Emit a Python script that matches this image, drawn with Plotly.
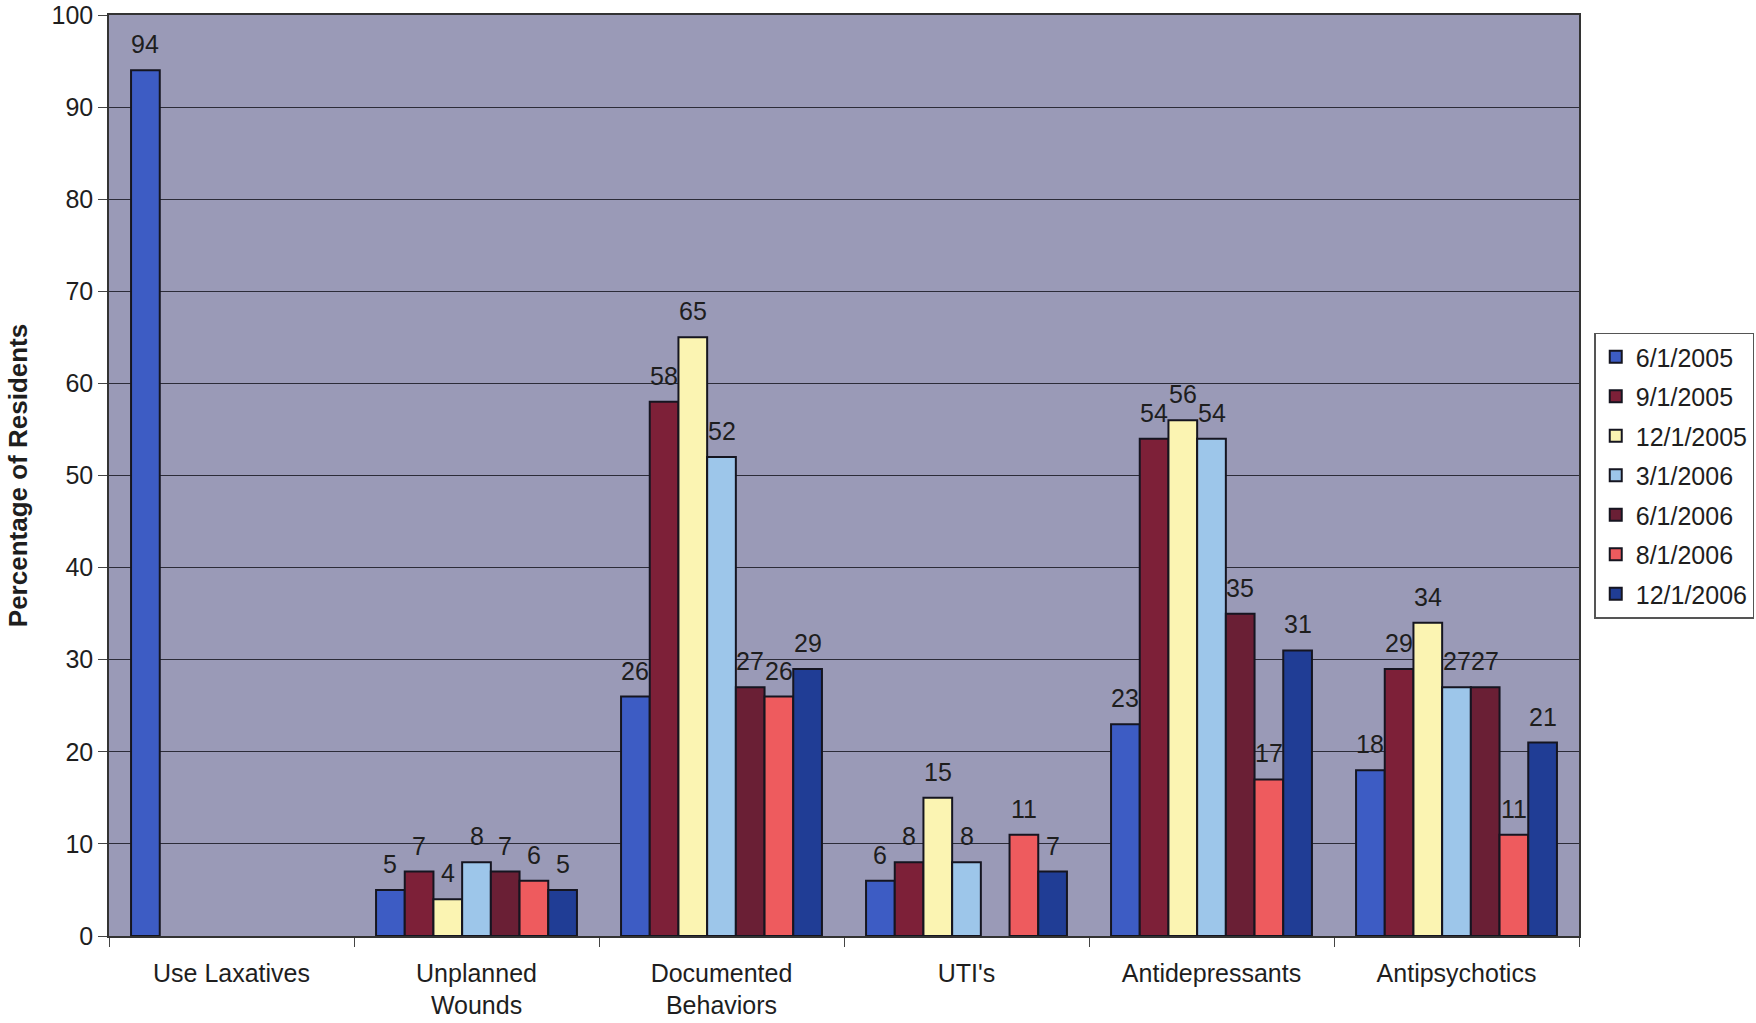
import plotly.graph_objects as go

categories = ["Use Laxatives", "Unplanned<br>Wounds", "Documented<br>Behaviors",
              "UTI's", "Antidepressants", "Antipsychotics"]

series_names = ["6/1/2005", "9/1/2005", "12/1/2005", "3/1/2006",
                "6/1/2006", "8/1/2006", "12/1/2006"]

s_2005_06 = [94, 5, 26, 6, 23, 18]
s_2005_09 = [None, 7, 58, 8, 54, 29]
s_2005_12 = [None, 4, 65, 15, 56, 34]
s_2006_03 = [None, 8, 52, 8, 54, 27]
s_2006_06 = [None, 7, 27, None, 35, 27]
s_2006_08 = [None, 6, 26, 11, 17, 11]
s_2006_12 = [None, 5, 29, 7, 31, 21]

series_values = [s_2005_06, s_2005_09, s_2005_12, s_2006_03,
                 s_2006_06, s_2006_08, s_2006_12]

bar_colors = ["#3d5cc4", "#7d2038", "#fbf4b2", "#9dc6ea",
              "#6a1f35", "#ee5b5e", "#203d95"]

FONT = "Liberation Sans, Arial, sans-serif"
TEXT = "#1e1e1e"
FS = 25
BARGAP = 0.18

fig = go.Figure()
for i, (name, vals, col) in enumerate(zip(series_names, series_values, bar_colors)):
    fig.add_trace(go.Bar(
        name=name,
        x=categories,
        y=vals,
        marker=dict(color=col, line=dict(color="#151520", width=2)),
        legendgroup=f"g{i}",
    ))

# value labels above each bar, placed at the grouped-bar centres
n = len(series_names)
group_w = 1 - BARGAP
bar_w = group_w / n
annotations = []
for i, vals in enumerate(series_values):
    for c, v in enumerate(vals):
        if v is None:
            continue
        annotations.append(dict(
            x=c - group_w / 2 + (i + 0.5) * bar_w, y=v,
            xref="x", yref="y",
            text=str(v), showarrow=False,
            yanchor="bottom", yshift=10,
            font=dict(family=FONT, size=FS, color=TEXT),
        ))

fig.update_layout(
    width=1756, height=1023,
    barmode="group",
    bargap=BARGAP,
    bargroupgap=0,
    paper_bgcolor="white",
    plot_bgcolor="#9a9ab7",
    margin=dict(l=109, r=177, t=15, b=87),
    font=dict(family=FONT, color=TEXT, size=FS),
    showlegend=True,
    annotations=annotations,
    legend=dict(
        xref="container", x=0.999, xanchor="right",
        y=0.5, yanchor="middle",
        bgcolor="white", bordercolor="#555555", borderwidth=1.5,
        font=dict(family=FONT, size=FS, color=TEXT),
        tracegroupgap=4,
        traceorder="grouped",
        itemwidth=30,
    ),
)

fig.update_xaxes(
    type="category",
    tickson="boundaries",
    ticks="outside", ticklen=9, tickcolor="#444",
    showline=True, linecolor="#333", linewidth=1.5, mirror=True,
    showgrid=False,
    automargin=False,
    ticklabelstandoff=14,
    tickfont=dict(family=FONT, size=FS, color=TEXT),
)

fig.update_yaxes(
    range=[0, 100], dtick=10,
    ticks="outside", ticklen=9, tickcolor="#444",
    showline=True, linecolor="#333", linewidth=1.5, mirror=True,
    showgrid=True, gridcolor="#2c2c38", gridwidth=1.2,
    zeroline=False,
    automargin=False,
    tickfont=dict(family=FONT, size=FS, color=TEXT),
    title=dict(text="<b>Percentage of Residents</b>",
               font=dict(family=FONT, size=26, color=TEXT), standoff=16),
)

fig.write_html("out.html")
